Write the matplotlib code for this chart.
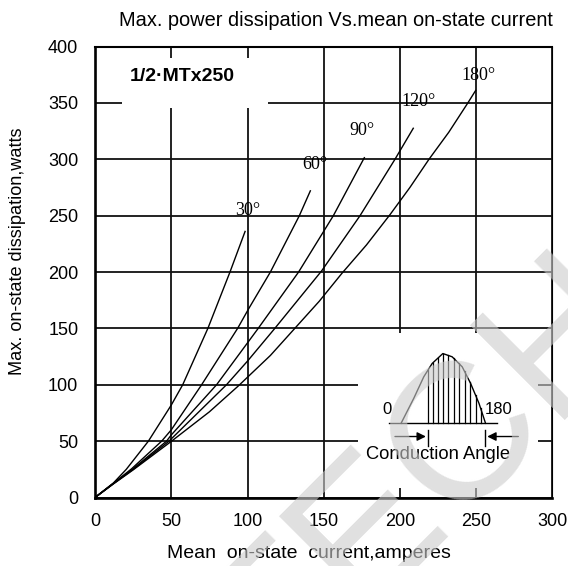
import numpy as np
import matplotlib
matplotlib.use("Agg")
import matplotlib.pyplot as plt
from matplotlib.patches import Rectangle

plt.rcParams['font.family'] = ['Liberation Sans', 'DejaVu Sans']

# ---- data ----
x_ticks = [0, 50, 100, 150, 200, 250, 300]
y_ticks = [0, 50, 100, 150, 200, 250, 300, 350, 400]

angle_labels = ["30°", "60°", "90°", "120°", "180°"]

x30 = [0, 12, 20.5, 35, 50, 57.5, 74, 88.5, 98.4]
y30 = [0, 12.8, 25, 50, 82, 100, 150, 200, 236]

x60 = [0, 12, 24, 43.7, 50, 69.9, 93.5, 101, 115, 134, 141.2]
y60 = [0, 12.6, 25.5, 50, 60, 100, 150, 168, 200, 250, 272]

x90 = [0, 12, 24.5, 46.9, 50, 79.7, 107, 133.5, 156.3, 176.6]
y90 = [0, 12.4, 25, 50, 55.5, 100, 150, 200, 250, 301.4]

x120 = [0, 12, 25, 48.5, 86.2, 100, 117.9, 148.6, 173.8, 196.7, 208.7]
y120 = [0, 12.2, 25, 50, 100, 121, 150, 201, 250, 300, 327.5]

x180 = [0, 12, 25, 50, 75, 94, 115, 131, 147, 162, 178, 193.5, 206.5, 219, 232, 244.5, 249.6]
y180 = [0, 12, 24.5, 49.8, 76, 99, 126, 150, 174, 199, 224, 251, 275, 300, 324, 350, 361]

label_x = [100.1, 144.3, 174.9, 212.0, 251.4]
label_y = [254.4, 295.0, 325.1, 351.0, 374.1]

# inset icon (conduction angle sketch)
hump_x = [200.7, 209.0, 215.6, 221.1, 228.1, 234.2, 240.8, 246.3, 251.8, 256.1]
hump_y = [65.8, 87.9, 107.1, 118.9, 127.7, 124.8, 115.9, 101.2, 83.5, 65.8]
hatch_x = [218.4, 221.7, 224.8, 228.1, 231.6, 235.3, 238.6, 242.3, 245.8, 249.6, 252.9]

fig = plt.figure(figsize=(5.68, 5.66), dpi=100)
ax = fig.add_axes([0.1673, 0.1210, 0.8054, 0.7968])
ax.set_xlim(0, 300)
ax.set_ylim(0, 400)
ax.set_xticks(x_ticks)
ax.set_yticks(y_ticks)
ax.set_xticklabels([str(v) for v in x_ticks])
ax.set_yticklabels([str(v) for v in y_ticks])
ax.tick_params(length=0, labelsize=13, pad=11.5, colors='black')
ax.tick_params(axis='y', pad=12)

ax.set_axisbelow(True)
ax.grid(True, color='#111111', lw=1.3)

for s, w in (('left', 1.9), ('bottom', 1.9), ('top', 1.5), ('right', 0.8)):
    ax.spines[s].set_linewidth(w)
    ax.spines[s].set_color('black')

# white boxes that interrupt the grid
ax.add_patch(Rectangle((17.7, 345.4), 95.7, 44.3, facecolor='white', edgecolor='none', zorder=1.5))
ax.add_patch(Rectangle((172.5, 8.6), 118.0, 137.4, facecolor='white', edgecolor='none', zorder=1.5))

curves = [(x30, y30), (x60, y60), (x90, y90), (x120, y120), (x180, y180)]
for (cx, cy) in curves:
    ax.plot(cx, cy, color='black', lw=1.0, zorder=3, solid_joinstyle='round')

for lbl, lx, ly in zip(angle_labels, label_x, label_y):
    ax.text(lx, ly, lbl, ha='center', va='center', fontsize=13,
            family=['Liberation Serif', 'DejaVu Serif'], zorder=4)

ax.text(57, 373, "1/2·MTx250", ha='center', va='center', fontsize=14,
        fontweight='bold', zorder=4)

# inset sketch
ax.plot([193, 263.4], [66, 66], color='black', lw=1.0, zorder=4)
ax.plot(hump_x, hump_y, color='black', lw=1.0, zorder=4)
for hx in hatch_x:
    top = np.interp(hx, hump_x, hump_y)
    ax.plot([hx, hx], [66, top], color='black', lw=0.9, zorder=4)
ax.plot([218.1, 218.1], [45.6, 59.5], color='black', lw=1.0, zorder=4)
ax.plot([255.7, 255.7], [45.6, 59.5], color='black', lw=1.0, zorder=4)
ax.annotate("", xy=(217.0, 54.1), xytext=(196.7, 54.1),
            arrowprops=dict(arrowstyle='-|>', color='black', lw=1.0, mutation_scale=13,
                            shrinkA=0, shrinkB=0), zorder=4)
ax.annotate("", xy=(257.2, 54.1), xytext=(277.6, 54.1),
            arrowprops=dict(arrowstyle='-|>', color='black', lw=1.0, mutation_scale=13,
                            shrinkA=0, shrinkB=0), zorder=4)
ax.text(191.3, 78.4, "0", ha='center', va='center', fontsize=12, zorder=4)
ax.text(264.5, 78.4, "180", ha='center', va='center', fontsize=12, zorder=4)
ax.text(225.1, 37.9, "Conduction Angle", ha='center', va='center', fontsize=13.2, zorder=4)

# titles
fig.text(336 / 568, 1 - 20 / 566, "Max. power dissipation Vs.mean on-state current",
         ha='center', va='center', fontsize=14.4)
fig.text(308.5 / 568, 1 - 554 / 566, "Mean  on-state  current,amperes",
         ha='center', va='center', fontsize=14)
fig.text(18 / 568, 1 - 251 / 566, "Max. on-state dissipation,watts",
         ha='center', va='center', rotation=90, fontsize=13.1)

# faint watermark on top
fig.text(465 / 568, 1 - 515 / 566, "TECH", rotation=45, rotation_mode='anchor',
         ha='center', va='baseline', fontsize=140, color=(0.8, 0.8, 0.8), alpha=0.6,
         zorder=20)

fig.savefig("out.png", dpi=100)
